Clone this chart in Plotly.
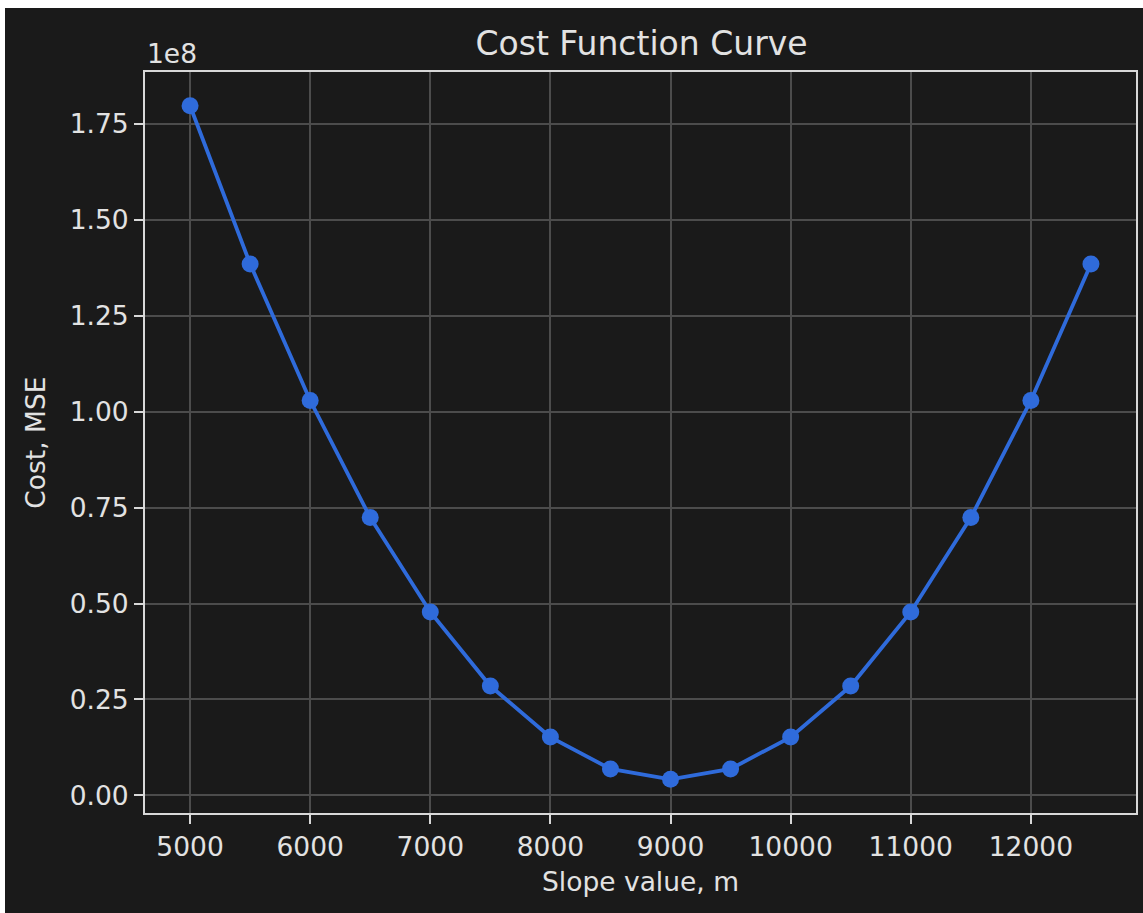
import plotly.graph_objects as go

# ---- data ----
slope_values = [5000, 5500, 6000, 6500, 7000, 7500, 8000, 8500, 9000,
                9500, 10000, 10500, 11000, 11500, 12000, 12500]
cost_values = [1.797e8, 1.385e8, 1.029e8, 0.724e8, 0.478e8, 0.285e8, 0.152e8, 0.069e8, 0.042e8,
               0.069e8, 0.152e8, 0.285e8, 0.478e8, 0.724e8, 1.029e8, 1.385e8]
x_tick_vals = [5000, 6000, 7000, 8000, 9000, 10000, 11000, 12000]
y_tick_vals = [0.0, 0.25e8, 0.5e8, 0.75e8, 1.0e8, 1.25e8, 1.5e8, 1.75e8]
y_tick_text = ["0.00", "0.25", "0.50", "0.75", "1.00", "1.25", "1.50", "1.75"]
title_text = "Cost Function Curve"
x_label = "Slope value, m"
y_label = "Cost, MSE"
offset_text = "1e8"

BG = "#1a1a1a"
FG = "#e2e2e2"
SPINE = "#d8d8d8"
GRID = "#4c4c4c"
BLUE = "#2f6bdb"
FONT = "DejaVu Sans"

W, H = 1138, 905
ML, MR, MT, MB = 140, 5, 64, 100

fig = go.Figure()
fig.add_trace(go.Scatter(
    x=slope_values, y=cost_values, mode="lines+markers",
    line=dict(color=BLUE, width=3.8),
    marker=dict(color=BLUE, size=17, line=dict(width=0)),
    showlegend=False, hoverinfo="x+y",
))

axis_common = dict(
    showline=True, linecolor=SPINE, linewidth=2, mirror=True,
    showgrid=True, gridcolor=GRID, gridwidth=1.7,
    ticks="outside", ticklen=9, tickwidth=2, tickcolor=SPINE,
    tickfont=dict(family=FONT, size=26.5, color=FG),
    zeroline=False,
)

fig.update_xaxes(range=[4625, 12875], tickvals=x_tick_vals,
                 ticktext=[str(v) for v in x_tick_vals], **axis_common)
fig.update_yaxes(range=[-0.0458e8, 1.885e8], tickvals=y_tick_vals,
                 ticktext=y_tick_text, **axis_common)

fig.update_layout(
    width=W, height=H, autosize=False,
    margin=dict(l=ML, r=MR, t=MT, b=MB, pad=0),
    paper_bgcolor=BG, plot_bgcolor=BG,
    font=dict(family=FONT, color=FG),
    title=dict(text=title_text, x=0.5 * (ML + (W - MR)) / W, xanchor="center",
               y=1 - 35 / H, yanchor="middle", yref="container",
               font=dict(family=FONT, size=33, color=FG)),
    annotations=[
        dict(text=offset_text, xref="paper", yref="paper", x=0.0277, y=1.0243,
             xanchor="center", yanchor="middle", showarrow=False,
             font=dict(family=FONT, size=26.5, color=FG)),
        dict(text=x_label, xref="paper", yref="paper", x=0.5, y=-0.0931,
             xanchor="center", yanchor="middle", showarrow=False,
             font=dict(family=FONT, size=26.5, color=FG)),
        dict(text=y_label, xref="paper", yref="paper", x=-0.1108, y=0.5,
             xanchor="center", yanchor="middle", showarrow=False, textangle=-90,
             font=dict(family=FONT, size=26.5, color=FG)),
    ],
)

fig.write_html(
    "out.html",
    config={"displayModeBar": False},
    post_script="document.body.style.margin='8px 0 0 5px';document.body.style.overflow='hidden';document.body.style.background='#ffffff';",
)
